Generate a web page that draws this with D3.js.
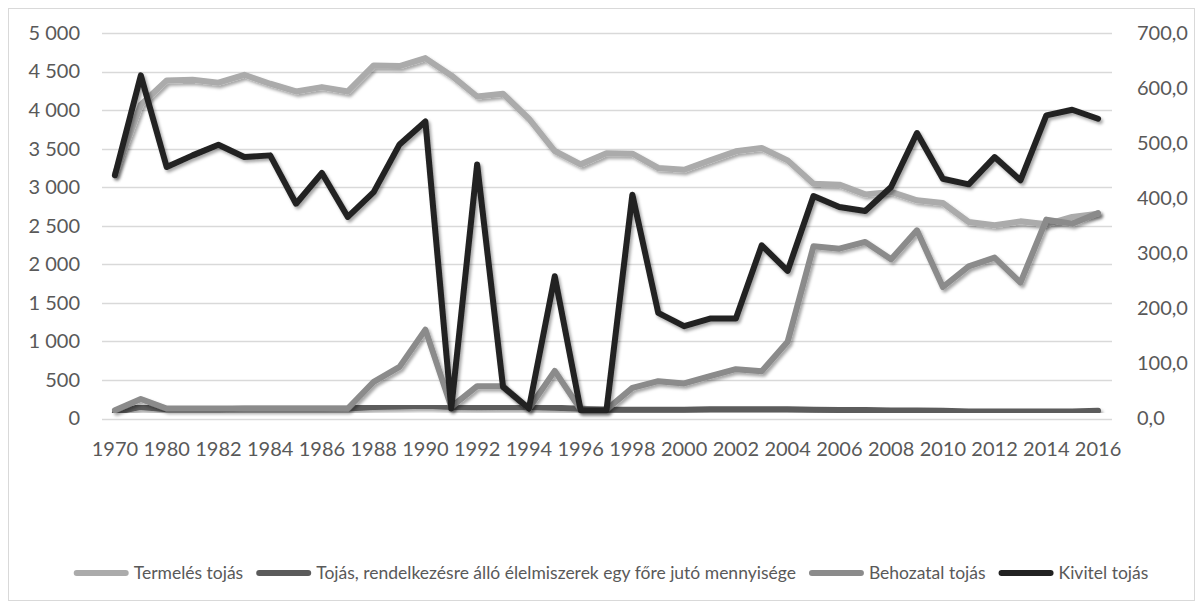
<!DOCTYPE html>
<html>
<head>
<meta charset="utf-8">
<script src="https://cdn.jsdelivr.net/npm/d3@7/dist/d3.min.js"></script>
<style>
  html, body { margin: 0; padding: 0; background: #fff; }
  svg { display: block; font-family: Lato, "Open Sans", sans-serif; }
</style>
</head>
<body>
<svg id="chart" width="1196" height="603"></svg>
<script>
// ---- DATA ----
const categories = ["1970","1975","1980","1981","1982","1983","1984","1985","1986","1987","1988","1989","1990","1991","1992","1993","1994","1995","1996","1997","1998","1999","2000","2001","2002","2003","2004","2005","2006","2007","2008","2009","2010","2011","2012","2013","2014","2015","2016"];
const xTickLabels = categories.filter((d, i) => i % 2 === 0);

// Termelés tojás (left axis)
const termeles = [3170,4070,4385,4393,4355,4458,4342,4242,4298,4242,4579,4571,4674,4450,4177,4212,3888,3469,3296,3440,3434,3249,3227,3348,3465,3508,3348,3046,3033,2907,2938,2830,2795,2549,2506,2557,2519,2614,2657];
// Tojás, rendelkezésre álló élelmiszerek egy főre jutó mennyisége (right axis)
const egyFore = [11.2,21.0,16.8,16.8,16.8,17.5,17.5,17.5,17.5,18.2,21.0,21.7,23.1,21.0,20.3,21.0,21.0,19.6,17.5,16.1,16.1,16.1,16.1,16.8,16.8,16.8,16.8,16.1,15.4,15.4,14.7,14.7,14.0,12.6,12.6,12.6,12.6,12.6,14.0];
// Behozatal tojás (right axis)
const behozatal = [15.1,35.4,18.2,18.2,18.2,18.2,18.2,18.2,18.2,18.2,66.5,93.8,161.4,21.1,58.7,58.7,18.2,86.5,16.4,16.4,55.6,67.8,63.6,76.9,89.5,85.8,139.2,312.6,308.4,320.6,289.1,341.7,238.8,276.4,292.2,246.8,361.1,353.8,373.1];
// Kivitel tojás (right axis)
const kivitel = [441.6,623.0,456.7,477.8,497.0,474.7,477.8,390.0,445.8,366.0,411.0,497.7,539.4,18.2,461.4,57.4,18.2,258.3,15.1,15.1,406.4,191.7,167.6,181.4,181.4,314.4,268.0,404.0,384.0,376.7,420.3,518.3,435.4,425.2,474.7,432.5,550.3,560.7,544.3];

const leftTicks = [0,500,1000,1500,2000,2500,3000,3500,4000,4500,5000];
const rightTicks = [0,100,200,300,400,500,600,700];

const seriesNames = ["Termelés tojás","Tojás, rendelkezésre álló élelmiszerek egy főre jutó mennyisége","Behozatal tojás","Kivitel tojás"];

// ---- CHART ----
const svg = d3.select("#chart");
const plot = { left: 102, right: 1111, top: 33, bottom: 418.5 };

const defs = svg.append("defs");
const f = defs.append("filter").attr("id","shadow").attr("x","-5%").attr("y","-5%").attr("width","110%").attr("height","115%");
f.append("feDropShadow").attr("dx",2).attr("dy",2.5).attr("stdDeviation",1.8).attr("flood-color","#000").attr("flood-opacity",0.35);

// chart border
svg.append("rect").attr("x",8.5).attr("y",8.5).attr("width",1186).attr("height",592)
  .attr("fill","#fff").attr("stroke","#d9d9d9").attr("stroke-width",1);

const x = d3.scaleBand().domain(categories).range([plot.left, plot.right]).paddingInner(0).paddingOuter(0);
const xc = d => x(d) + x.bandwidth() / 2;
const yL = d3.scaleLinear().domain([0,5000]).range([plot.bottom, plot.top]);
const yR = d3.scaleLinear().domain([0,700]).range([plot.bottom, plot.top]);

// gridlines
svg.append("g").selectAll("line").data(leftTicks).join("line")
  .attr("x1", plot.left).attr("x2", plot.right + 1)
  .attr("y1", d => Math.round(yL(d)) + 0.5).attr("y2", d => Math.round(yL(d)) + 0.5)
  .attr("stroke","#d9d9d9").attr("stroke-width",1.3);

const fmtLeft = d => d3.format(",")(d).replace(/,/g, " ");
const fmtRight = d => d3.format(".1f")(d).replace(".", ",");

const axL = svg.append("g").attr("transform", `translate(${plot.left - 22},0)`)
  .call(d3.axisLeft(yL).tickValues(leftTicks).tickFormat(fmtLeft).tickSize(0).tickPadding(0));
const axR = svg.append("g").attr("transform", `translate(${plot.right + 26},0)`)
  .call(d3.axisRight(yR).tickValues(rightTicks).tickFormat(fmtRight).tickSize(0).tickPadding(0));
const axB = svg.append("g").attr("transform", `translate(0,${plot.bottom + 18})`)
  .call(d3.axisBottom(x).tickValues(xTickLabels).tickSize(0).tickPadding(0));

[axL, axR, axB].forEach(a => {
  a.select(".domain").remove();
  a.selectAll("text").attr("fill","#595959").style("font-size","20px").style("font-family","Lato, sans-serif");
});
axB.selectAll("text").attr("dy","0.95em");

// lines
const series = [
  { name: seriesNames[0], values: termeles, scale: yL, color: "#ababab" },
  { name: seriesNames[1], values: egyFore, scale: yR, color: "#5b5b5b" },
  { name: seriesNames[2], values: behozatal, scale: yR, color: "#8b8b8b" },
  { name: seriesNames[3], values: kivitel, scale: yR, color: "#222222" }
];

series.forEach(s => {
  const line = d3.line().x((d, i) => xc(categories[i])).y(d => s.scale(d));
  svg.append("path").datum(s.values)
    .attr("d", line)
    .attr("fill","none").attr("stroke", s.color).attr("stroke-width",6)
    .attr("stroke-linejoin","round").attr("stroke-linecap","round")
    .attr("filter","url(#shadow)");
});

// legend (laid out from measured text widths, centred)
const legY = 573, swW = 55, txtGap = 5, itemGap = 13, legCenter = 611;
const lg = svg.append("g");
const items = series.map(s => {
  const g = lg.append("g");
  g.append("line").attr("x1",3).attr("x2",swW-3).attr("y1",0).attr("y2",0)
    .attr("stroke", s.color).attr("stroke-width",6).attr("stroke-linecap","round");
  const t = g.append("text").attr("x",swW + txtGap).attr("y",0).attr("dy","0.35em")
    .attr("fill","#595959").style("font-size","17.5px").text(s.name);
  return { g, w: swW + txtGap + t.node().getComputedTextLength() };
});
const total = d3.sum(items, d => d.w) + itemGap * (items.length - 1);
let cx = legCenter - total / 2;
items.forEach(it => { it.g.attr("transform", `translate(${cx},${legY})`); cx += it.w + itemGap; });
</script>
</body>
</html>
